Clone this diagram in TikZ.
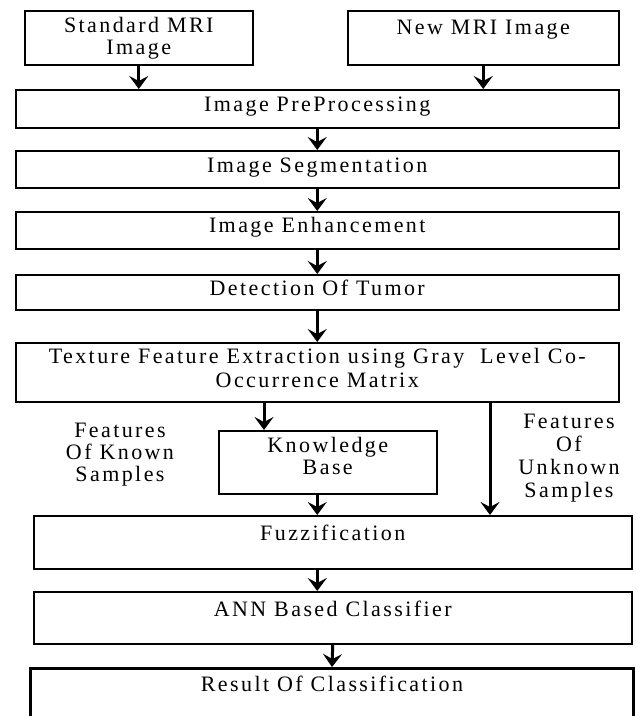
\documentclass[tikz,border=0pt]{standalone}
\usepackage{fontspec}
\setmainfont{Liberation Serif}[LetterSpace=11]
\usetikzlibrary{arrows.meta}

\begin{document}
\begin{tikzpicture}[x=1pt, y=-1pt, font=\fontsize{22}{22}\selectfont,
        box/.style={draw, line width=1.5pt, inner sep=0pt, anchor=north west, align=center},
        lbl/.style={inner sep=0pt, anchor=base, align=center},
        flow/.style={line width=3pt, -{Stealth[length=13pt, width=19pt, inset=5pt]}}]
        \useasboundingbox (0, 0) rectangle (636, 716);

        \node[box, minimum width=228pt, text height=44pt, text depth=10pt] at (24, 10)   (std) {Standard MRI\\Image};
        \node[box, minimum width=271pt, text height=24pt, text depth=30pt] at (347, 10)  (new) {New MRI Image};
        \node[box, minimum width=603pt, text height=22pt, text depth=16pt] at (15, 89)   (pre) {Image PreProcessing};
        \node[box, minimum width=603pt, text height=22pt, text depth=15pt] at (15, 150)  (seg) {Image Segmentation};
        \node[box, minimum width=603pt, text height=21pt, text depth=16pt] at (15, 211)  (enh) {Image Enhancement};
        \node[box, minimum width=603pt, text height=21pt, text depth=14pt] at (15, 274)  (det) {Detection Of Tumor};
        \node[box, minimum width=603pt, text height=45pt, text depth=14pt] at (15, 342)  (tex) {Texture Feature Extraction using Gray\ \ Level Co-\\[2pt]Occurrence Matrix};
        \node[box, minimum width=218pt, text height=44pt, text depth=19pt] at (218, 430) (kb)  {Knowledge\\Base};
        \node[box, minimum width=598pt, text height=25pt, text depth=28pt] at (33, 515)  (fuz) {Fuzzification};
        \node[box, minimum width=598pt, text height=25pt, text depth=27pt] at (33, 591)  (ann) {ANN Based Classifier};
        \node[box, line width=3pt, minimum width=603pt, text height=23pt, text depth=60pt] at (29, 667) (res) {Result Of Classification};

        \node[lbl] at (120, 481) (known)   {Features\\Of Known\\Samples};
        \node[lbl] at (569, 497) (unknown) {Features\\[0.7pt]Of\\[0.7pt]Unknown\\[0.7pt]Samples};

        \draw [flow] (std.south) -- (std.south |- pre.north);\draw [flow] (new.south) -- (new.south |- pre.north);
        \draw [flow] (pre) -- (seg);\draw [flow] (seg) -- (enh);\draw [flow] (enh) -- (det);\draw [flow] (det) -- (tex);
        \draw [flow] ([xshift=46pt]kb.north west |- tex.south) -- ([xshift=46pt]kb.north west);
        \draw [flow] ([xshift=457pt]fuz.north west |- tex.south) -- ([xshift=457pt]fuz.north west);
        \draw [flow] (kb.south -| tex.south) -- (fuz.north -| tex.south);
        \draw [flow] (fuz.south -| tex.south) -- (ann.north -| tex.south);
        \draw [flow] (ann.south) -- (res.north);
\end{tikzpicture}
\end{document}
